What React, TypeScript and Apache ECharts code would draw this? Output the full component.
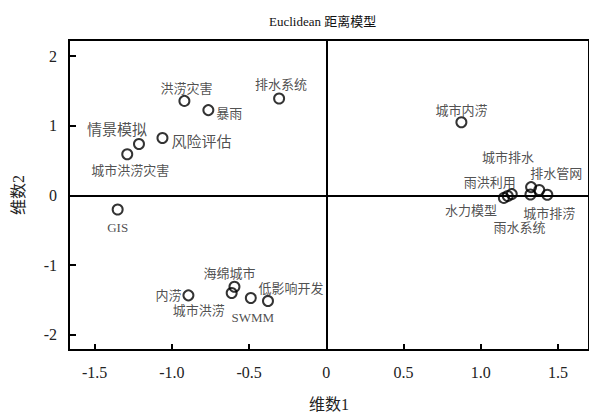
import React, { useEffect, useRef } from "react";
import * as echarts from "echarts";

// Point names and coordinates (dimension 1, dimension 2)
const names = [
  "洪涝灾害", "暴雨", "排水系统", "情景模拟", "风险评估", "城市洪涝灾害", "GIS",
  "城市内涝",
  "水力模型", "", "雨洪利用", "城市排水", "雨水系统", "排水管网", "城市排涝",
  "海绵城市", "内涝", "城市洪涝", "SWMM", "低影响开发",
];
const dim1 = [
  -0.919, -0.764, -0.306, -1.213, -1.061, -1.289, -1.351,
  0.874,
  1.149, 1.174, 1.2, 1.325, 1.321, 1.378, 1.43,
  -0.595, -0.893, -0.613, -0.489, -0.378,
];
const dim2 = [
  1.357, 1.225, 1.391, 0.739, 0.824, 0.592, -0.201,
  1.051,
  -0.035, -0.007, 0.02, 0.12, 0.014, 0.078, 0.011,
  -1.31, -1.433, -1.399, -1.47, -1.513,
];
const xTicks = [-1.5, -1.0, -0.5, 0, 0.5, 1.0, 1.5];
const yTicks = [-2, -1, 0, 1, 2];

// label placement (style)
const labelOffsets: Record<string, number[]> = {
  "洪涝灾害": [2, -12],
  "暴雨": [21, 3],
  "排水系统": [2, -14],
  "情景模拟": [-22, -14],
  "风险评估": [39, 4],
  "城市洪涝灾害": [3, 16],
  "GIS": [0, 18],
  "城市内涝": [0, -12],
  "水力模型": [-33, 13],
  "雨洪利用": [-22, -12],
  "城市排水": [-23, -30],
  "雨水系统": [-11, 33],
  "排水管网": [17, -17],
  "城市排涝": [2, 19],
  "海绵城市": [-5, -13],
  "内涝": [-20, 0],
  "城市洪涝": [-33, 18],
  "SWMM": [2, 20],
  "低影响开发": [23, -12],
};
const bigLabels = ["情景模拟", "风险评估"];

const FONT = "'Liberation Serif', 'Noto Sans CJK SC', serif";

export default function App() {
  const ref = useRef<HTMLDivElement>(null);
  useEffect(() => {
    if (!ref.current) return;
    const chart = echarts.init(ref.current, null, { renderer: "svg" });
    const data = names.map((n, i) => ({
      name: n,
      value: [dim1[i], dim2[i]],
      label: {
        show: n !== "",
        offset: labelOffsets[n] || [0, 0],
        fontSize: bigLabels.includes(n) ? 15 : 13,
      },
    }));
    chart.setOption({
      animation: false,
      backgroundColor: "#fff",
      title: {
        text: "Euclidean 距离模型",
        left: 264,
        top: 10,
        textStyle: { fontFamily: FONT, fontSize: 13, fontWeight: "normal", color: "#111" },
      },
      grid: {
        left: 69,
        top: 40,
        width: 527,
        height: 314,
        show: true,
        borderColor: "#000",
        borderWidth: 2,
        backgroundColor: "transparent",
      },
      xAxis: {
        type: "value",
        min: -1.666,
        max: 1.7,
        name: "维数1",
        nameLocation: "middle",
        nameGap: 46,
        nameTextStyle: { fontFamily: FONT, fontSize: 16, color: "#222" },
        axisLine: { show: true, onZero: false, lineStyle: { color: "#000", width: 2 } },
        axisTick: { show: true, inside: true, length: 6, customValues: xTicks, lineStyle: { color: "#000", width: 2 } },
        axisLabel: {
          customValues: xTicks,
          margin: 14,
          fontFamily: FONT,
          fontSize: 16,
          color: "#222",
          formatter: (v: number) => (v === 0 ? "0" : v.toFixed(1)),
        },
        splitLine: { show: false },
      },
      yAxis: {
        type: "value",
        min: -2.217,
        max: 2.231,
        name: "维数2",
        nameLocation: "middle",
        nameGap: 43,
        nameRotate: 90,
        nameTextStyle: { fontFamily: FONT, fontSize: 16, color: "#222" },
        axisLine: { show: true, onZero: false, lineStyle: { color: "#000", width: 2 } },
        axisTick: { show: true, inside: true, length: 7, customValues: yTicks, lineStyle: { color: "#000", width: 2 } },
        axisLabel: {
          customValues: yTicks,
          margin: 12,
          fontFamily: FONT,
          fontSize: 16,
          color: "#222",
          formatter: (v: number) => String(v),
        },
        splitLine: { show: false },
      },
      series: [
        {
          type: "scatter",
          symbol: "circle",
          symbolSize: 10,
          itemStyle: { color: "rgba(255,255,255,0)", borderColor: "#000", borderWidth: 2 },
          label: {
            show: true,
            position: "inside",
            formatter: "{b}",
            fontFamily: FONT,
            color: "#222",
          },
          markLine: {
            silent: true,
            symbol: "none",
            label: { show: false },
            lineStyle: { color: "#000", width: 2, type: "solid" },
            data: [{ xAxis: 0 }, { yAxis: 0 }],
          },
          data,
        },
      ],
    });
    return () => chart.dispose();
  }, []);
  return (
    <div
      ref={ref}
      style={{ position: "fixed", left: 0, top: 0, width: 589, height: 417 }}
    />
  );
}
